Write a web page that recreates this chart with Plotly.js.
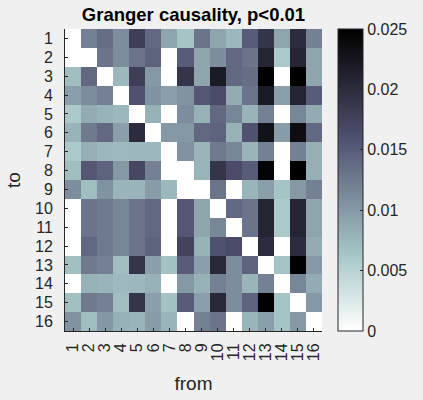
<!DOCTYPE html>
<html>
<head>
<meta charset="utf-8">
<script src="https://cdn.plot.ly/plotly-3.0.1.min.js"></script>
<style>
  html, body { margin: 0; padding: 0; background: #f0f0f0; }
  #plot { width: 423px; height: 400px; }
</style>
</head>
<body>
<div id="plot"></div>
<script>
// channel labels (from = columns, to = rows)
var channels = [1, 2, 3, 4, 5, 6, 7, 8, 9, 10, 11, 12, 13, 14, 15, 16];
var tickText = channels.map(String);

// causality strength, one row per "to" channel
var to1  = [0, .012, .0135, .011, .018, .014, .009, .0065, .013, .009, .0075, .015, .019, .009, .020, .012];
var to2  = [0, 0, .013, .011, .013, .0145, 0, .015, .009, .011, .014, .013, .021, .006, .021, .009];
var to3  = [.007, .014, 0, .0075, .018, .010, 0, .019, .009, .022, .014, .0135, .025, 0, .025, .009];
var to4  = [.0095, .011, .012, 0, .016, .0105, .0095, .0105, .0155, .0165, .0085, .013, .022, .0095, .021, .015];
var to5  = [.006, .0085, .0078, .0075, 0, .008, 0, .011, .008, .014, .0115, .0078, .012, 0, .0115, .0085];
var to6  = [.0078, .0125, .014, .0095, .020, 0, .010, .010, .014, .0145, .008, .016, .023, .0097, .0235, .014];
var to7  = [.006, .0082, .0075, .0073, .0075, .0075, 0, .0105, .0077, .0125, .0115, .0077, .012, 0, .012, .0082];
var to8  = [.007, .0155, .0145, .010, .017, .012, 0, 0, .0077, .019, .0165, .015, .0245, 0, .025, .0082];
var to9  = [.011, .007, .0105, .0077, .0077, .0097, .0075, 0, 0, .013, 0, .0077, .0095, .0065, .010, .012];
var to10 = [0, .013, .0125, .0115, .013, .014, 0, .0155, .009, 0, .014, .013, .021, .006, .021, .009];
var to11 = [0, .013, .0125, .0115, .013, .014, 0, .0155, .009, .0115, 0, .013, .021, .006, .021, .009];
var to12 = [0, .014, .0125, .0115, .013, .0145, 0, .0175, .008, .016, .0165, 0, .020, 0, .020, .0085];
var to13 = [.0068, .0125, .012, .007, .019, .0095, .0067, .015, .0095, .0205, .011, .0145, 0, .0065, .025, .010];
var to14 = [0, .008, .0077, .0073, .0075, .008, 0, .010, .008, .012, .011, .0077, .012, 0, .0115, .0085];
var to15 = [.0068, .0125, .012, .007, .019, .0095, .0067, .015, .0095, .0205, .011, .0145, .025, .0065, 0, .010];
var to16 = [.0105, .007, .0102, .008, .0077, .0097, .0077, 0, .012, .013, 0, .0077, .0095, .0065, .010, 0];

var zRows = [to1, to2, to3, to4, to5, to6, to7, to8, to9, to10, to11, to12, to13, to14, to15, to16];
var cbTicks = [0, 0.005, 0.01, 0.015, 0.02, 0.025];

// matlab "bone", flipped so that 0 is white
var boneFlipped = [
  [0, 'rgb(255,255,255)'],
  [0.254, 'rgb(166,198,198)'],
  [0.635, 'rgb(81,81,113)'],
  [1, 'rgb(0,0,0)']
];

var font = 'Liberation Sans, Arial, Helvetica, sans-serif';

var trace = {
  type: 'heatmap',
  x: channels,
  y: channels,
  z: zRows,
  zmin: 0,
  zmax: 0.025,
  colorscale: boneFlipped,
  showscale: true,
  colorbar: {
    x: 1.062, xanchor: 'left', xpad: 0,
    y: 0.5, yanchor: 'middle', len: 1, ypad: 0,
    thickness: 25,
    outlinewidth: 1, outlinecolor: '#262626',
    tickvals: cbTicks,
    ticktext: ['0', '0.005', '0.01', '0.015', '0.02', '0.025'],
    ticks: 'inside', ticklen: 3, tickcolor: '#262626',
    ticklabelstandoff: 3,
    tickfont: {family: font, size: 16, color: '#262626'}
  }
};

var layout = {
  width: 423,
  height: 400,
  paper_bgcolor: '#f0f0f0',
  plot_bgcolor: '#ffffff',
  margin: {l: 65, r: 98, t: 29, b: 69},
  font: {family: font, color: '#262626'},
  title: {
    text: '<b>Granger causality, p<0.01</b>',
    font: {family: font, size: 18.5, color: '#000000'},
    x: 0.5, xref: 'paper', xanchor: 'center',
    y: 0.9625, yref: 'container', yanchor: 'middle'
  },
  xaxis: {
    tickvals: channels,
    ticktext: tickText,
    tickangle: -90,
    tickfont: {size: 16},
    ticks: 'inside', ticklen: 3, tickcolor: '#262626',
    ticklabelstandoff: 5,
    showline: true, linecolor: '#262626', linewidth: 1,
    showgrid: false, zeroline: false,
    range: [0.5, 16.5],
    title: {text: 'from', font: {size: 19}, standoff: 16}
  },
  yaxis: {
    tickvals: channels,
    ticktext: tickText,
    tickfont: {size: 16},
    ticks: 'inside', ticklen: 3, tickcolor: '#262626',
    ticklabelstandoff: 8,
    showline: true, linecolor: '#262626', linewidth: 1,
    showgrid: false, zeroline: false,
    range: [16.5, 0.5],
    title: {text: 'to', font: {size: 19}, standoff: 9}
  }
};

Plotly.newPlot('plot', [trace], layout, {displayModeBar: false, staticPlot: true});
</script>
</body>
</html>
